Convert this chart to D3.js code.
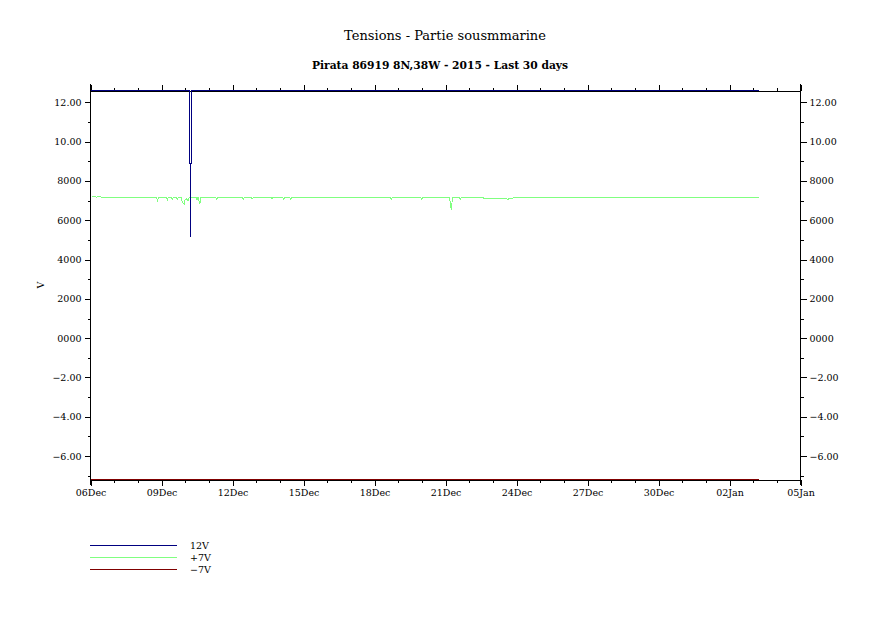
<!DOCTYPE html>
<html>
<head>
<meta charset="utf-8">
<script src="https://cdn.jsdelivr.net/npm/d3@7"></script>
<style>
  body { margin: 0; background: #fff; }
  text { font-family: "DejaVu Serif", serif; fill: #000; }
</style>
</head>
<body>
<svg id="chart" width="891" height="630"></svg>
<script>
// ---------------- DATA ----------------
const titleText = "Tensions - Partie sousmmarine";
const subtitleText = "Pirata 86919 8N,38W - 2015 - Last 30 days";
const yAxisLabel = "V";

const seriesNames = ["12V", "+7V", "−7V"];
const seriesColors = ["#000080", "#80ff80", "#800000"];

// 12V series (clipped at top of plot), breakpoints
const v12Times = ["2015-12-06T00:00", "2015-12-10T04:00", "2015-12-10T04:05", "2015-12-10T05:00",
                  "2015-12-10T05:03", "2015-12-10T05:06", "2015-12-10T06:00", "2015-12-10T06:05",
                  "2016-01-03T06:00"];
const v12Values = [12.6, 12.6, 8.9, 8.9, 5.15, 8.9, 8.9, 12.6, 12.6];

// +7V series
const v7pTimes = ["2015-12-06T01:00", "2015-12-06T03:00", "2015-12-06T06:00", "2015-12-06T09:00",
                  "2015-12-06T12:00", "2015-12-06T20:00", "2015-12-07T02:00", "2015-12-08T19:00",
                  "2015-12-08T20:00", "2015-12-08T21:00", "2015-12-09T05:00", "2015-12-09T06:00",
                  "2015-12-09T07:00", "2015-12-09T10:00", "2015-12-09T11:00", "2015-12-09T12:00",
                  "2015-12-09T15:00", "2015-12-09T16:00", "2015-12-09T17:00", "2015-12-09T20:00",
                  "2015-12-09T21:00", "2015-12-09T23:00", "2015-12-10T00:00", "2015-12-10T01:00",
                  "2015-12-10T03:00", "2015-12-10T04:00", "2015-12-10T11:00", "2015-12-10T12:00",
                  "2015-12-10T13:00", "2015-12-10T15:00", "2015-12-10T16:00", "2015-12-11T07:00",
                  "2015-12-11T08:00", "2015-12-11T09:00", "2015-12-12T10:00", "2015-12-12T11:00",
                  "2015-12-12T12:00", "2015-12-12T19:00", "2015-12-12T20:00", "2015-12-12T21:00",
                  "2015-12-13T15:00", "2015-12-13T16:00", "2015-12-13T17:00", "2015-12-14T03:00",
                  "2015-12-14T04:00", "2015-12-14T05:00", "2015-12-14T10:00", "2015-12-14T11:00",
                  "2015-12-14T12:00", "2015-12-18T16:00", "2015-12-18T17:00", "2015-12-18T18:00",
                  "2015-12-19T23:00", "2015-12-20T00:00", "2015-12-20T01:00", "2015-12-21T04:00",
                  "2015-12-21T05:00", "2015-12-21T06:00", "2015-12-21T07:00", "2015-12-21T14:00",
                  "2015-12-21T15:00", "2015-12-21T16:00", "2015-12-22T14:00", "2015-12-22T15:00",
                  "2015-12-23T14:00", "2015-12-23T15:00", "2015-12-23T17:00", "2015-12-23T20:00",
                  "2015-12-23T21:00", "2016-01-03T06:00"];
const v7pValues = [7.16, 7.21, 7.18, 7.21,
                   7.16, 7.13, 7.17, 7.16,
                   7.00, 7.16, 7.16, 7.05,
                   7.16, 7.16, 7.08, 7.16,
                   7.16, 7.05, 7.16, 7.16,
                   6.95, 6.80, 7.05, 7.10,
                   7.00, 7.16, 7.16, 7.05,
                   7.16, 6.85, 7.16, 7.16,
                   7.08, 7.16, 7.16, 7.08,
                   7.16, 7.16, 7.08, 7.16,
                   7.16, 7.08, 7.16, 7.16,
                   7.08, 7.16, 7.16, 7.06,
                   7.16, 7.16, 7.05, 7.16,
                   7.16, 7.05, 7.16, 7.16,
                   6.85, 6.51, 7.16, 7.16,
                   7.07, 7.16, 7.16, 7.11,
                   7.11, 7.05, 7.11, 7.11,
                   7.16, 7.16];

// -7V series (clipped at bottom of plot)
const v7mTimes = ["2015-12-06T00:00", "2016-01-03T06:00"];
const v7mValues = [-7.19, -7.19];

const yTickValues = [-6, -4, -2, 0, 2, 4, 6, 8, 10, 12];
const yTickLabels = ["−6.00", "−4.00", "−2.00", "0000", "2000", "4000", "6000", "8000", "10.00", "12.00"];
const yMinorValues = [-7, -5, -3, -1, 1, 3, 5, 7, 9, 11];

const xTickDates = ["2015-12-06", "2015-12-09", "2015-12-12", "2015-12-15", "2015-12-18", "2015-12-21",
                    "2015-12-24", "2015-12-27", "2015-12-30", "2016-01-02", "2016-01-05"];
const xTickLabels = ["06Dec", "09Dec", "12Dec", "15Dec", "18Dec", "21Dec",
                     "24Dec", "27Dec", "30Dec", "02Jan", "05Jan"];

// ---------------- CHART ----------------
const parse = d3.timeParse("%Y-%m-%dT%H:%M");
const parseDay = d3.timeParse("%Y-%m-%d");
const svg = d3.select("#chart");

const x0 = 90.5, x1 = 800.5, yTop = 90.5, yBot = 479.5;
const x = d3.scaleTime().domain([parseDay("2015-12-06"), parseDay("2016-01-05")]).range([x0, x1]);
const y = d3.scaleLinear().domain([-7.19, 12.6]).range([yBot, yTop]);

const ticksFmt = (vals, labels) => d => labels[vals.indexOf(d)];

const xDates = xTickDates.map(parseDay);
const xMinor = d3.timeDay.range(parseDay("2015-12-06"), parseDay("2016-01-06"));
const xFmt = d => { const i = xDates.findIndex(t => +t === +d); return i >= 0 ? xTickLabels[i] : ""; };

function styleAxis(g) {
  g.selectAll("path").attr("stroke", "#000").attr("shape-rendering", "crispEdges");
  g.selectAll("line").attr("stroke", "#000").attr("shape-rendering", "crispEdges");
  g.selectAll("text").style("font-family", "'DejaVu Serif', serif").style("font-size", "9.5px").attr("fill", "#000");
}

// bottom axis
svg.append("g").attr("transform", `translate(0,${yBot})`)
  .call(d3.axisBottom(x).tickValues(xMinor).tickSize(3).tickFormat("").tickSizeOuter(0))
  .call(styleAxis);
svg.append("g").attr("transform", `translate(0,${yBot})`)
  .call(d3.axisBottom(x).tickValues(xDates).tickSize(6).tickPadding(4).tickFormat(xFmt).tickSizeOuter(0))
  .call(styleAxis);
// top axis
svg.append("g").attr("transform", `translate(0,${yTop})`)
  .call(d3.axisTop(x).tickValues(xMinor).tickSize(3).tickFormat("").tickSizeOuter(0))
  .call(styleAxis);
svg.append("g").attr("transform", `translate(0,${yTop})`)
  .call(d3.axisTop(x).tickValues(xDates).tickSize(6).tickFormat("").tickSizeOuter(0))
  .call(styleAxis);
// left axis
const gl1 = svg.append("g").attr("transform", `translate(${x0},0)`)
  .call(d3.axisLeft(y).tickValues(yMinorValues).tickSize(3).tickFormat("").tickSizeOuter(0))
  .call(styleAxis);
gl1.select("path").remove();
const gl2 = svg.append("g").attr("transform", `translate(${x0},0)`)
  .call(d3.axisLeft(y).tickValues(yTickValues).tickSize(6).tickPadding(3).tickFormat(ticksFmt(yTickValues, yTickLabels)).tickSizeOuter(0))
  .call(styleAxis);
gl2.select("path").remove();
// right axis
const gr1 = svg.append("g").attr("transform", `translate(${x1},0)`)
  .call(d3.axisRight(y).tickValues(yMinorValues).tickSize(3).tickFormat("").tickSizeOuter(0))
  .call(styleAxis);
gr1.select("path").remove();
const gr2 = svg.append("g").attr("transform", `translate(${x1},0)`)
  .call(d3.axisRight(y).tickValues(yTickValues).tickSize(6).tickPadding(3).tickFormat(ticksFmt(yTickValues, yTickLabels)).tickSizeOuter(0))
  .call(styleAxis);
gr2.select("path").remove();
// vertical axis lines extend beyond the frame
[x0, x1].forEach(xx => {
  svg.append("line").attr("x1", xx).attr("x2", xx).attr("y1", 84).attr("y2", 485)
    .attr("stroke", "#000").attr("shape-rendering", "crispEdges");
});

// series
const line = d3.line().x(d => x(d[0])).y(d => y(d[1]));
const series = [
  d3.zip(v12Times.map(parse), v12Values),
  d3.zip(v7pTimes.map(parse), v7pValues),
  d3.zip(v7mTimes.map(parse), v7mValues)
];
// draw green first, then red, then navy on top
[1, 2, 0].forEach(i => {
  svg.append("path").datum(series[i]).attr("d", line)
    .attr("fill", "none").attr("stroke", seriesColors[i]).attr("stroke-width", 1)
    .attr("shape-rendering", "crispEdges");
});

// titles
svg.append("text").attr("x", 445).attr("y", 40).attr("text-anchor", "middle")
  .style("font-size", "13px").text(titleText);
svg.append("text").attr("x", 440).attr("y", 69).attr("text-anchor", "middle")
  .style("font-size", "10.7px").style("font-weight", "bold").text(subtitleText);
svg.append("text").attr("transform", "translate(44,285) rotate(-90)").attr("text-anchor", "middle")
  .style("font-size", "9.5px").text(yAxisLabel);

// legend
const legY = [545.5, 557.5, 569.5];
seriesNames.forEach((n, i) => {
  svg.append("line").attr("x1", 90).attr("x2", 177).attr("y1", legY[i]).attr("y2", legY[i])
    .attr("stroke", seriesColors[i]).attr("shape-rendering", "crispEdges");
  svg.append("text").attr("x", 190).attr("y", legY[i] + 3.5).style("font-size", "9.5px").text(n);
});
</script>
</body>
</html>
